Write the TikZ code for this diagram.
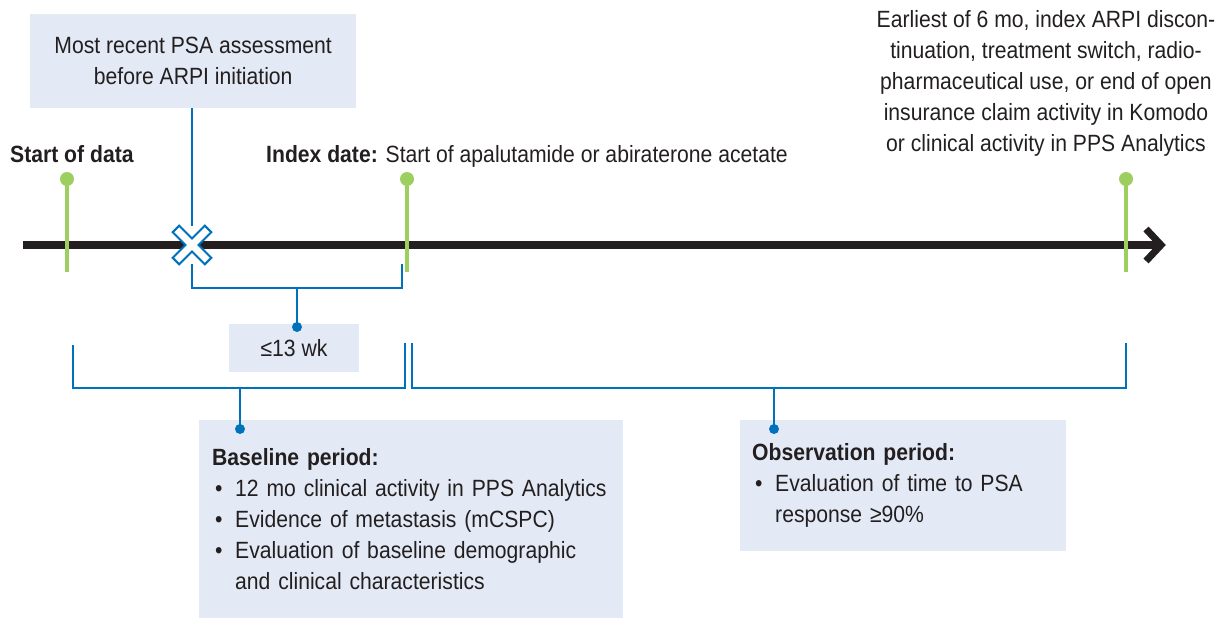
\documentclass[tikz,border=0pt]{standalone}
\usepackage{fontspec}
\setmainfont{Liberation Sans}[FakeStretch=0.9]
\definecolor{tblue}{RGB}{0,114,188}
\definecolor{tgreen}{RGB}{157,207,96}
\definecolor{tfill}{RGB}{227,234,245}
\definecolor{tdark}{RGB}{35,31,32}
\newcommand{\bulitem}{\makebox[23pt][l]{\hspace*{3pt}•}}
\begin{document}
\begin{tikzpicture}[x=1pt,y=-1pt,
  txt/.style={font=\fontsize{23.5}{31}\selectfont, text=tdark, inner sep=0pt},
  infobox/.style={txt, fill=tfill},
  gdot/.style={circle, fill=tgreen, minimum size=14pt, inner sep=0pt},
  gline/.style={draw=tgreen, line width=4pt},
  bline/.style={draw=tblue, line width=2.8pt},
  bdot/.style={circle, fill=tblue, minimum size=10pt, inner sep=0pt},
  axis/.style={draw=tdark, line width=8pt}
]
\useasboundingbox (0,0) rectangle (1221,618);

% top box
\node[infobox, minimum width=326pt, minimum height=94pt, align=center, anchor=north west] (psa) at (30,14)
  {Most recent PSA assessment\\before ARPI initiation};

% timeline
\coordinate (t0) at (23,245);
\coordinate (t1) at (1161,245);
\draw[axis] (t0) -- (t1);
\coordinate (c1) at (1146,229);
\coordinate (c2) at (1146,261);
\draw[draw=tdark, line width=7pt, miter limit=10] (c1) -- (t1) -- (c2);

% labels
\node[txt, anchor=base west] (sdl) at (10,162) {\textbf{Start of data}};
\node[txt, anchor=base west] (idl) at (266,162) {\textbf{Index date:} Start of apalutamide or abiraterone acetate};
\node[txt, anchor=north, align=center] (endl) at (1046,10)
  {Earliest of 6 mo, index ARPI discon-\\tinuation, treatment switch, radio-\\pharmaceutical use, or end of open\\insurance claim activity in Komodo\\or clinical activity in PPS Analytics};

% green markers
\node[gdot] (g1) at (67,179) {};
\node[gdot] (g2) at (407,179) {};
\node[gdot] (g3) at (1126,179) {};
\coordinate (g1b) at (67,272);
\coordinate (g2b) at (407,272);
\coordinate (g3b) at (1126,272);
\draw[gline] (g1.center) -- (g1b);
\draw[gline] (g2.center) -- (g2b);
\draw[gline] (g3.center) -- (g3b);

% cross marker
\coordinate (cross) at (192,245);
\coordinate (crosstop) at (192,226);
\draw[bline] (psa.south -| cross) -- (crosstop);
\begin{scope}[shift={(cross)}]
  \foreach \a in {45,-45} \draw[tblue, line width=4.5pt, rotate=\a] (-21.5,-3.4) rectangle (21.5,3.4);
  \foreach \a in {45,-45} \fill[white, rotate=\a] (-21.5,-3.4) rectangle (21.5,3.4);
\end{scope}

% <=13 wk box
\node[infobox, minimum width=130pt, minimum height=48pt] (wk) at (294,348) {≤13 wk};
\coordinate (b1a) at (192,264);
\coordinate (b1b) at (402,264);
\coordinate (b1m) at (297,288);
\node[bdot] (d1) at (297,327) {};
\draw[bline] (b1a) |- (b1b |- b1m) -- (b1b);
\draw[bline] (b1m) -- (d1.center);

% baseline box
\node[infobox, anchor=north west, minimum width=424pt, minimum height=198pt, text width=398pt, inner xsep=13pt, align=left] (base) at (199,420)
  {\textbf{Baseline period:}\\
   \mbox{\bulitem 12 mo clinical activity in PPS Analytics}\\
   \mbox{\bulitem Evidence of metastasis (mCSPC)}\\
   \mbox{\bulitem Evaluation of baseline demographic}\\
   \mbox{\hspace*{23pt}and clinical characteristics}};

% observation box
\node[infobox, anchor=north west, minimum width=326pt, minimum height=131pt, text width=302pt, inner xsep=12pt, align=left] (obs) at (740,420)
  {\textbf{Observation period:}\\
   \mbox{\bulitem Evaluation of time to PSA}\\
   \mbox{\hspace*{23pt}response ≥90\%}};

% baseline bracket
\coordinate (b2a) at (73,345);
\coordinate (b2b) at (405,343);
\coordinate (b2m) at (240,388);
\node[bdot] (d2) at (240,429) {};
\draw[bline] (b2a) |- (b2b |- b2m) -- (b2b);
\draw[bline] (b2m) -- (d2.center);

% observation bracket
\coordinate (b3a) at (412,343);
\coordinate (b3b) at (1126,343);
\coordinate (b3m) at (774,388);
\node[bdot] (d3) at (774,429) {};
\draw[bline] (b3a) |- (b3b |- b3m) -- (b3b);
\draw[bline] (b3m) -- (d3.center);
\end{tikzpicture}
\end{document}
